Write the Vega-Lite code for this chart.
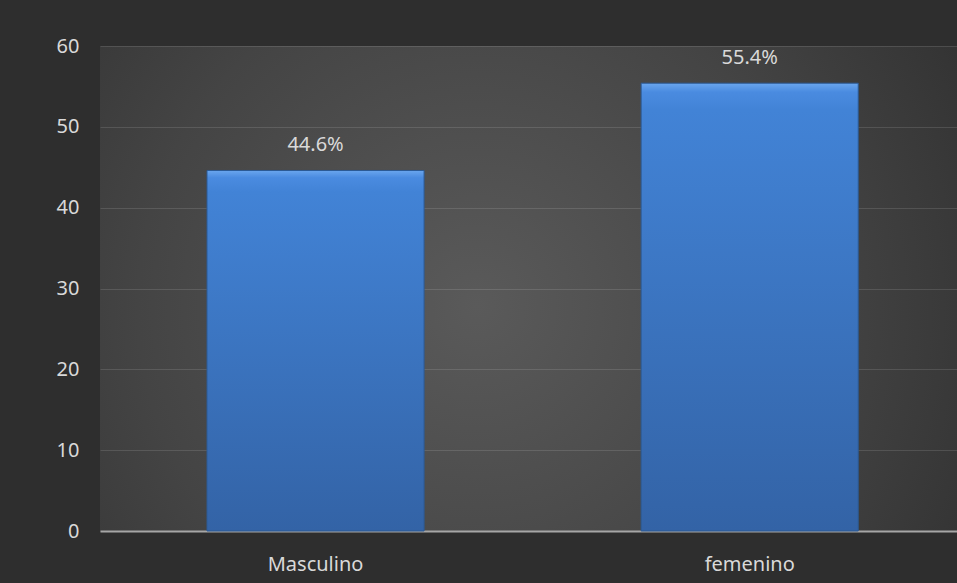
{
  "$schema": "https://vega.github.io/schema/vega-lite/v6.json",
  "width": 857,
  "height": 485,
  "autosize": "none",
  "padding": {"left": 100, "top": 46, "right": 0, "bottom": 52},
  "background": "#2e2e2e",
  "config": {
    "view": {
      "stroke": null,
      "fill": {"gradient": "radial", "x1": 0.44, "y1": 0.52, "x2": 0.44, "y2": 0.52, "r1": 0, "r2": 0.72,
        "stops": [{"offset": 0, "color": "#5a5a5a"}, {"offset": 0.55, "color": "#444444"}, {"offset": 1, "color": "#2e2e2e"}]}
    },
    "font": "Noto Sans"
  },
  "data": {"values": [
    {"sexo": "Masculino", "valor": 44.6, "etiqueta": "44.6%"},
    {"sexo": "femenino", "valor": 55.4, "etiqueta": "55.4%"}
  ]},
  "encoding": {
    "x": {"field": "sexo", "type": "nominal", "sort": null,
      "scale": {"paddingInner": 0.5, "paddingOuter": 0.237, "align": 0.52},
      "axis": {"title": null, "labelAngle": 0, "labelFontSize": 20, "labelColor": "#d9d9d9",
        "ticks": false, "domainColor": "#a6a6a6", "domainWidth": 2, "labelPadding": 23}},
    "y": {"field": "valor", "type": "quantitative",
      "scale": {"domain": [0, 60]},
      "axis": {"title": null, "values": [0, 10, 20, 30, 40, 50, 60], "labelFontSize": 20,
        "labelColor": "#d9d9d9", "ticks": false, "domain": false, "gridColor": "#ffffff",
        "gridOpacity": 0.12, "gridWidth": 1, "labelPadding": 21}}
  },
  "layer": [
    {"mark": {"type": "bar", "stroke": "#2c5a95", "strokeWidth": 1,
      "fill": {"gradient": "linear", "x1": 0, "y1": 0, "x2": 0, "y2": 1,
        "stops": [{"offset": 0, "color": "#6aa6ee"}, {"offset": 0.02, "color": "#4a8be0"}, {"offset": 0.06, "color": "#4283d6"}, {"offset": 1, "color": "#3363a6"}]}}},
    {"mark": {"type": "text", "baseline": "alphabetic", "dy": -19, "fontSize": 20, "color": "#d9d9d9"},
      "encoding": {"text": {"field": "etiqueta"}}}
  ]
}
